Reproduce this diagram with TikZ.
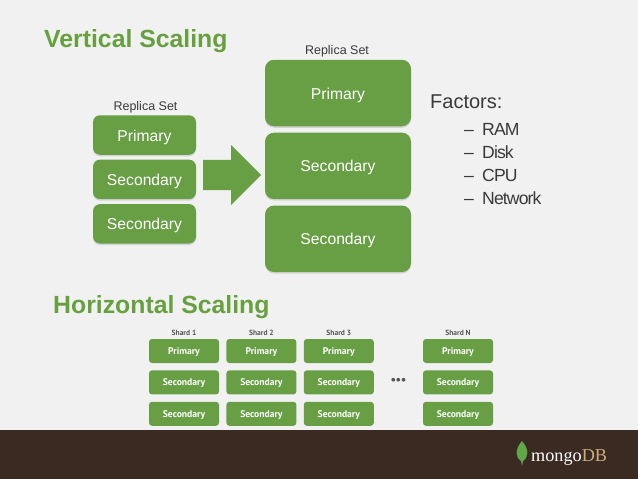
\documentclass[tikz,border=0pt]{standalone}
\usepackage{xcolor}
\usepackage{fontspec}
\setmainfont{Liberation Sans}
\newfontfamily\shardfont{PT Sans}
\newfontfamily\logofont{Liberation Serif}
\newfontfamily\tightfont[LetterSpace=-5]{Liberation Sans}
\usepackage{tikz}
\usetikzlibrary{positioning,shapes.arrows,shadows}
\definecolor{Paper}{HTML}{F1F1F1}
\definecolor{Leaf}{HTML}{689F45}
\definecolor{Title}{HTML}{67A03F}
\definecolor{Bark}{HTML}{3B2A22}
\definecolor{Ink}{HTML}{3A3A3A}
\definecolor{Grey}{HTML}{555555}
\definecolor{Sand}{HTML}{C9AE78}
\definecolor{Sprout}{HTML}{5FA84A}
\tikzset{
  smallbox/.style={fill=Leaf,rounded corners=7pt,minimum width=103pt,minimum height=39.5pt,inner sep=0pt,text=white,text height=12pt,text depth=0pt,font=\fontsize{15.7}{18}\selectfont,drop shadow={shadow xshift=0pt,shadow yshift=-1.5pt,opacity=0.25}},
  bigbox/.style={smallbox,rounded corners=9pt,minimum width=146pt,minimum height=66.5pt},
  shardbox/.style={fill=Leaf,rounded corners=3pt,minimum width=70pt,minimum height=24pt,inner sep=0pt,text=white,text height=7pt,text depth=0pt,font=\shardfont\bfseries\fontsize{9.6}{11}\selectfont},
  shardlabel/.style={text=Grey,inner sep=0pt,font=\shardfont\bfseries\fontsize{7.5}{9}\selectfont},
  heading/.style={text=Title,inner sep=0pt,anchor=west,font=\bfseries\fontsize{24.8}{28}\selectfont},
  setlabel/.style={text=Ink,inner sep=0pt,font=\fontsize{12.5}{14}\selectfont},
  factor/.style={text=Ink,inner sep=0pt,anchor=west,font=\tightfont\fontsize{17.6}{20}\selectfont}
}
\begin{document}
\begin{tikzpicture}[x=1pt,y=-1pt,node distance=7pt]
  \useasboundingbox (0,0) rectangle (638,479);
  \fill[Paper] (0,0) rectangle (638,479);
  \fill[Bark] (0,430) rectangle (638,479);

  \node[heading] (vtitle) at (44,41) {Vertical Scaling};
  \node[heading] (htitle) at (53,307) {Horizontal Scaling};

  % small replica set
  \node[smallbox] (lprimary) at (144.5,135) {Primary};
  \node[smallbox,below=4.5pt of lprimary] (lsecond) {Secondary};
  \node[smallbox,below=4.5pt of lsecond] (lthird) {Secondary};
  \node[setlabel,above=1.5pt of lprimary,xshift=1pt] (lset) {Replica Set};

  % scaled up replica set
  \node[bigbox] (bprimary) at (338,93) {Primary};
  \node[bigbox,below=6pt of bprimary] (bsecond) {Secondary};
  \node[bigbox,below=6pt of bsecond] (bthird) {Secondary};
  \node[setlabel,above=2.5pt of bprimary,xshift=-1pt] (bset) {Replica Set};

  \node[single arrow,fill=Leaf,inner xsep=0pt,inner ysep=15pt,minimum height=58pt,single arrow head extend=15pt,anchor=west] (grow) at (203,175) {};

  \node[factor,font=\fontsize{20}{22}\selectfont] (factors) at (430,102) {Factors:};
  \node[factor] (fram) at (464,129) {\makebox[18pt][l]{–}RAM};
  \node[factor] (fdisk) at (464,152) {\makebox[18pt][l]{–}Disk};
  \node[factor] (fcpu) at (464,175) {\makebox[18pt][l]{–}CPU};
  \node[factor] (fnet) at (464,198) {\makebox[18pt][l]{–}Network};

  % shards
  \node[shardbox] (aprimary) at (184,351) {Primary};
  \node[shardbox,below=of aprimary] (asecond) {Secondary};
  \node[shardbox,below=of asecond] (athird) {Secondary};
  \node[shardlabel,above=3pt of aprimary] (ashard) {Shard 1};

  \node[shardbox,right=7pt of aprimary] (cprimary) {Primary};
  \node[shardbox,below=of cprimary] (csecond) {Secondary};
  \node[shardbox,below=of csecond] (cthird) {Secondary};
  \node[shardlabel,above=3pt of cprimary] (cshard) {Shard 2};

  \node[shardbox,right=7pt of cprimary] (eprimary) {Primary};
  \node[shardbox,below=of eprimary] (esecond) {Secondary};
  \node[shardbox,below=of esecond] (ethird) {Secondary};
  \node[shardlabel,above=3pt of eprimary] (eshard) {Shard 3};

  \node[shardbox] (nprimary) at (458,351) {Primary};
  \node[shardbox,below=of nprimary] (nsecond) {Secondary};
  \node[shardbox,below=of nsecond] (nthird) {Secondary};
  \node[shardlabel,above=3pt of nprimary] (nshard) {Shard N};

  \node[text=Grey,inner sep=0pt,font=\bfseries\fontsize{13}{14}\selectfont] (gap) at (398.5,381) {\textbullet\kern0.5pt\textbullet\kern0.5pt\textbullet};

  % logo
  \fill[Sprout] (522,441) .. controls (515,449) and (515,457) .. (521,461) -- (522,466) -- (523,461) .. controls (529,457) and (529,449) .. (522,441) -- cycle;
  \node[inner sep=0pt,anchor=base west,font=\logofont\fontsize{18.2}{22}\selectfont,text=white] (logo) at (531,461.5) {mongo\textcolor{Sand}{DB}};
\end{tikzpicture}
\end{document}
